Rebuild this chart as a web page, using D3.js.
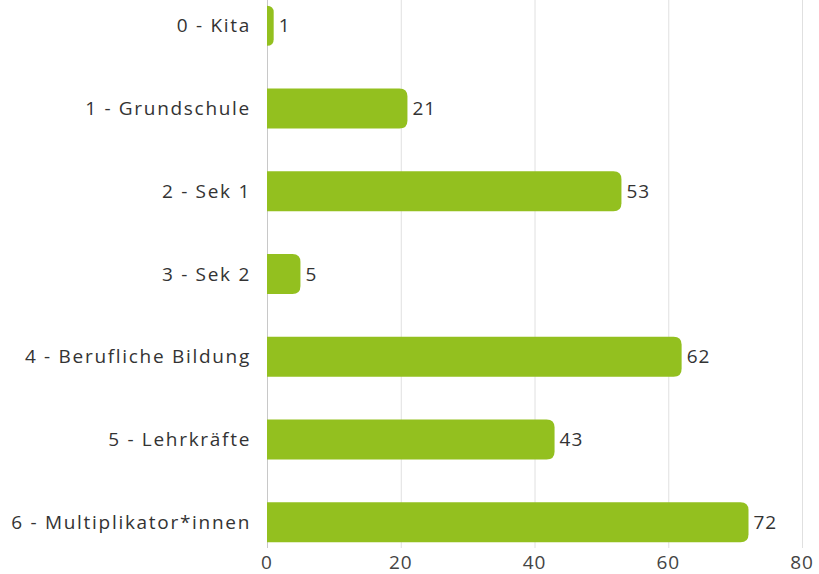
<!DOCTYPE html>
<html>
<head>
<meta charset="utf-8">
<script src="https://cdn.jsdelivr.net/npm/d3@7"></script>
<style>
  body { margin: 0; background: #fff; }
  text { font-family: "Open Sans", sans-serif; }
</style>
</head>
<body>
<div class="chart"></div>
<script>
var svgWidth = 819;
var svgHeight = 574;

var margin = { top: 0, right: 17, bottom: 26, left: 267 };
var width = svgWidth - margin.left - margin.right;
var height = svgHeight - margin.top - margin.bottom;

// data
var categories = ["0 - Kita", "1 - Grundschule", "2 - Sek 1", "3 - Sek 2",
  "4 - Berufliche Bildung", "5 - Lehrkräfte", "6 - Multiplikator*innen"];
var counts = [1, 21, 53, 5, 62, 43, 72];
var xTicks = [0, 20, 40, 60, 80];

var svg = d3.select(".chart")
  .append("svg")
  .attr("width", svgWidth)
  .attr("height", svgHeight);

var chartGroup = svg.append("g")
  .attr("transform", `translate(${margin.left}, ${margin.top})`);

var x = d3.scaleLinear().domain([0, 80]).range([0, 535]);
var y = d3.scaleBand()
  .domain(categories)
  .range([0, height])
  .paddingInner(0.516)
  .paddingOuter(0.07);

// grid lines
chartGroup.selectAll("line.grid")
  .data(xTicks)
  .enter()
  .append("line")
  .attr("x1", d => x(d) + 0.5)
  .attr("x2", d => x(d) + 0.5)
  .attr("y1", 0)
  .attr("y2", height)
  .attr("stroke", d => d === 0 ? "#c8c8c8" : "#e0e0e0")
  .attr("stroke-width", 1);

// tick labels
chartGroup.selectAll("text.tick")
  .data(xTicks)
  .enter()
  .append("text")
  .attr("x", d => x(d))
  .attr("y", height + 21)
  .attr("text-anchor", "middle")
  .attr("font-size", 19)
  .attr("letter-spacing", 1)
  .attr("fill", "#444")
  .text(d => d);

// bar with rounded right end
function barPath(w, h) {
  var r = Math.min(8, w, h / 2);
  return `M0,0 H${w - r} Q${w},0 ${w},${r} V${h - r} Q${w},${h} ${w - r},${h} H0 Z`;
}

var bars = chartGroup.selectAll("g.bar")
  .data(categories)
  .enter()
  .append("g")
  .attr("transform", d => `translate(0, ${y(d)})`);

bars.append("path")
  .attr("d", (d, i) => barPath(x(counts[i]), y.bandwidth()))
  .attr("fill", "#93c01f");

bars.append("text")
  .attr("x", (d, i) => x(counts[i]) + 5)
  .attr("y", y.bandwidth() / 2)
  .attr("dy", "0.35em")
  .attr("font-size", 19)
  .attr("letter-spacing", 1)
  .attr("fill", "#333")
  .text((d, i) => counts[i]);

// category labels
chartGroup.selectAll("text.cat")
  .data(categories)
  .enter()
  .append("text")
  .attr("x", -16)
  .attr("y", d => y(d) + y.bandwidth() / 2)
  .attr("dy", "0.35em")
  .attr("text-anchor", "end")
  .attr("font-size", 19)
  .attr("letter-spacing", 1.7)
  .attr("fill", "#333")
  .text(d => d);
</script>
</body>
</html>
